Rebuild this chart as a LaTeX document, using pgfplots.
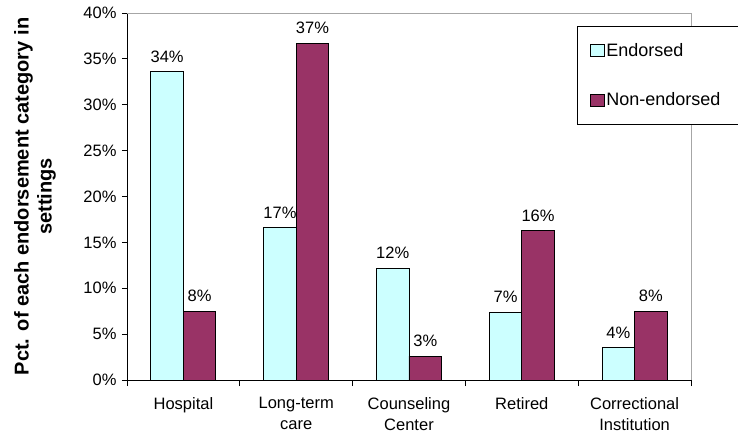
\documentclass[border=0pt]{standalone}
\usepackage{pgfplots}
\pgfplotsset{compat=1.18}
\usepackage{pgfplotstable}
\usepackage{fontspec}
\setmainfont{Liberation Sans}
\definecolor{endc}{HTML}{CCFFFF}
\definecolor{nonc}{HTML}{993366}
\pgfplotstableread{
x y lab
0 33.6 34\%
1 16.6 17\%
2 12.2 12\%
3 7.4 7\%
4 3.5 4\%
}\endorsed
\pgfplotstableread{
x y lab
0 7.5 8\%
1 36.7 37\%
2 2.6 3\%
3 16.3 16\%
4 7.5 8\%
}\nonendorsed
\begin{document}
\begin{tikzpicture}
\begin{axis}[
  at={(0,0)}, anchor=south west,
  scale only axis, width=564bp, height=367bp,
  font=\fontsize{16.5bp}{21bp}\selectfont,
  ybar=0pt, bar width=32.5bp,
  xmin=-0.5, xmax=4.5, ymin=0, ymax=40,
  axis x line*=bottom, axis y line*=left,
  axis line style={-, black, line width=0.8bp},
  xtick={0,1,2,3,4},
  xticklabels={Hospital,{Long-term\\care},{Counseling\\Center},Retired,{Correctional\\Institution}},
  xticklabel style={align=center, yshift=-9bp, font=\fontsize{16.5bp}{21bp}\selectfont},
  major x tick style={draw=none},
  minor xtick={-0.5,0.5,1.5,2.5,3.5,4.5},
  minor tick length=6bp,
  ytick={0,5,...,40},
  yticklabel={\pgfmathprintnumber{\tick}\%},
  yticklabel style={xshift=-2bp},
  /pgf/number format/assume math mode=true,
  tick align=outside, major tick length=5bp,
  tick style={black, line width=0.8bp},
  ylabel={Pct. of each endorsement category in\\settings},
  ylabel style={font=\fontsize{20bp}{23bp}\selectfont\bfseries, align=center, at={(axis description cs:-0.163,0.5)}, anchor=center},
  nodes near coords,
  point meta=explicit symbolic,
  every node near coord/.append style={font=\fontsize{16.5bp}{20bp}\selectfont, yshift=5.5bp},
  legend style={at={(rel axis cs:0.798,0.9646)}, anchor=north west, draw=black, fill=white, line width=0.8bp,
    inner xsep=13bp, inner ysep=16bp, row sep=33bp,
    font=\fontsize{18bp}{21bp}\selectfont,
    nodes={inner sep=1bp, text width=150bp}},
  legend cell align=left,
  legend image code/.code={\draw[#1] (0bp,-6bp) rectangle (14bp,6bp);},
  clip=false,
]
\addplot[draw=black, fill=endc, line width=0.8bp] table[x=x, y=y, meta=lab] {\endorsed};
\addplot[draw=black, fill=nonc, line width=0.8bp] table[x=x, y=y, meta=lab] {\nonendorsed};
\legend{Endorsed, Non-endorsed}
\draw[gray!70, line width=0.8bp] (rel axis cs:0,1) -- (rel axis cs:1,1) -- (rel axis cs:1,0);
\end{axis}
\pgfresetboundingbox
\useasboundingbox (-127bp,-58bp) rectangle (611bp,380bp);
\end{tikzpicture}
\end{document}
